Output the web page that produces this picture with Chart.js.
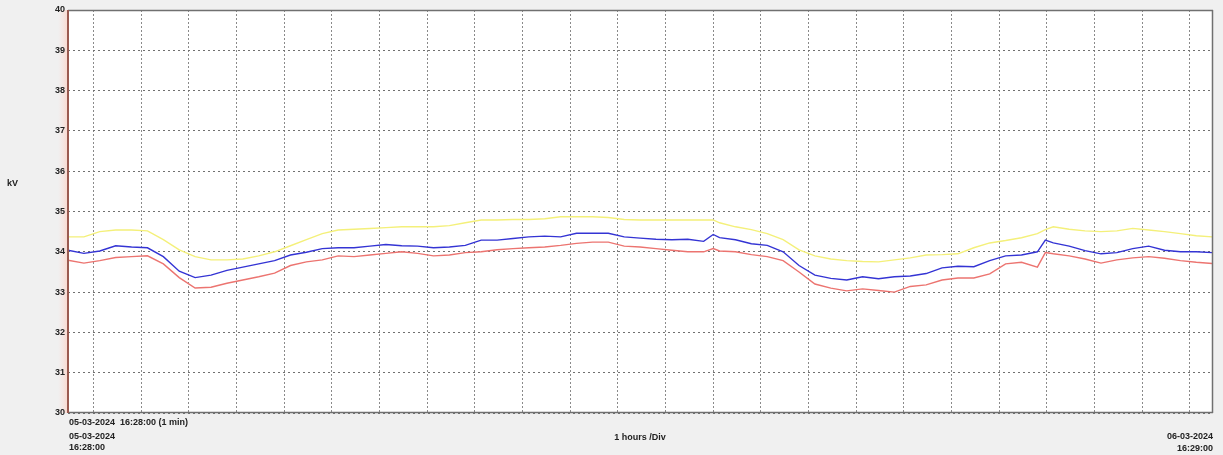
<!DOCTYPE html>
<html>
<head>
<meta charset="utf-8">
<script src="https://cdn.jsdelivr.net/npm/chart.js@4.4.1/dist/chart.umd.min.js"></script>
<style>
  html, body { margin: 0; padding: 0; background: #f0f0f0; }
  #wrap { width: 1223px; height: 455px; }
</style>
</head>
<body>
<div id="wrap"><canvas id="chart" width="1223" height="455"></canvas></div>
<script>
// minutes since 05-03-2024 16:28:00, 1 min sampling (read every ~20 min)
const minutes = [0, 20, 40, 60, 80, 100, 120, 140, 160, 180, 200, 220, 240, 260, 280, 300, 320, 340, 360, 380,
  400, 420, 440, 460, 480, 500, 520, 540, 560, 580, 600, 620, 640, 660, 680, 700, 720, 740, 760, 780,
  800, 812, 820, 840, 860, 880, 900, 920, 940, 960, 980, 1000, 1020, 1040, 1060, 1080, 1100, 1120, 1140, 1160,
  1180, 1200, 1220, 1230, 1240, 1260, 1280, 1300, 1320, 1340, 1360, 1380, 1400, 1420, 1440];

const phaseBlue = [34.04, 33.96, 34.02, 34.15, 34.12, 34.1, 33.88, 33.52, 33.36, 33.42, 33.54, 33.62, 33.7, 33.78, 33.92, 33.99, 34.08, 34.1, 34.1, 34.14,
  34.18, 34.15, 34.14, 34.1, 34.12, 34.16, 34.29, 34.29, 34.33, 34.37, 34.39, 34.37, 34.46, 34.46, 34.46, 34.37, 34.34, 34.31, 34.3, 34.31,
  34.26, 34.43, 34.35, 34.3, 34.2, 34.16, 34.0, 33.66, 33.42, 33.34, 33.3, 33.38, 33.33, 33.38, 33.4, 33.46, 33.6, 33.64, 33.63, 33.78,
  33.9, 33.92, 34.0, 34.29, 34.22, 34.14, 34.03, 33.95, 33.98, 34.08, 34.14, 34.04, 34.0, 34.0, 33.98];

const phaseRed = [33.79, 33.72, 33.78, 33.86, 33.88, 33.9, 33.7, 33.36, 33.1, 33.12, 33.22, 33.3, 33.38, 33.47, 33.66, 33.75, 33.8, 33.9, 33.88, 33.92,
  33.96, 34.0, 33.96, 33.9, 33.92, 33.98, 34.0, 34.05, 34.08, 34.1, 34.12, 34.16, 34.21, 34.24, 34.24, 34.14, 34.12, 34.08, 34.04, 34.0,
  34.0, 34.08, 34.02, 34.0, 33.93, 33.88, 33.78, 33.5, 33.2, 33.1, 33.03, 33.08, 33.04, 33.0, 33.14, 33.18, 33.3, 33.35, 33.35, 33.45,
  33.7, 33.74, 33.62, 33.98, 33.95, 33.9, 33.82, 33.72, 33.8, 33.85, 33.88, 33.84, 33.78, 33.74, 33.71];

const phaseYellow = [34.37, 34.37, 34.5, 34.54, 34.54, 34.52, 34.3, 34.05, 33.88, 33.8, 33.8, 33.82, 33.9, 34.0, 34.15, 34.3, 34.45, 34.54, 34.56, 34.58,
  34.6, 34.62, 34.62, 34.62, 34.65, 34.72, 34.79, 34.79, 34.8, 34.8, 34.82, 34.87, 34.87, 34.87, 34.85, 34.8, 34.79, 34.79, 34.79, 34.79,
  34.79, 34.79, 34.72, 34.62, 34.55, 34.45, 34.3, 34.05, 33.9, 33.82, 33.78, 33.76, 33.75, 33.8, 33.85, 33.92, 33.93, 33.95, 34.1, 34.22,
  34.28, 34.35, 34.45, 34.55, 34.62, 34.56, 34.52, 34.5, 34.52, 34.58, 34.54, 34.5, 34.45, 34.4, 34.37];

// hour grid: first full hour (17:00) is 32 min after start
const hourTicks = [];
for (let m = 32; m < 1441; m += 60) hourTicks.push(m);

const startLabel = "05-03-2024  16:28:00 (1 min)";
const leftDate = ["05-03-2024", "16:28:00"];
const rightDate = ["06-03-2024", "16:29:00"];
const divLabel = "1 hours /Div";
const unitLabel = "kV";

function toPoints(vals) {
  return vals.map((v, i) => ({ x: minutes[i], y: v }));
}

const framePlugin = {
  id: "frame",
  beforeDraw(chart) {
    const { ctx, chartArea: a } = chart;
    ctx.save();
    ctx.fillStyle = "#f0f0f0";
    ctx.fillRect(0, 0, chart.width, chart.height);
    // pink glow left of axis
    const g = ctx.createLinearGradient(a.left - 10, 0, a.left, 0);
    g.addColorStop(0, "rgba(250,225,220,0)");
    g.addColorStop(1, "rgba(250,215,205,1)");
    ctx.fillStyle = g;
    ctx.fillRect(a.left - 10, a.top, 10, a.bottom - a.top);
    ctx.fillStyle = "#ffffff";
    ctx.fillRect(a.left, a.top, a.right - a.left, a.bottom - a.top);
    ctx.restore();
  },
  afterDatasetsDraw(chart) {
    const { ctx, chartArea: a } = chart;
    ctx.save();
    ctx.lineWidth = 1.5;
    ctx.strokeStyle = "#707070";
    ctx.beginPath();
    ctx.moveTo(a.left, a.top + 0.5);
    ctx.lineTo(a.right, a.top + 0.5);
    ctx.moveTo(a.right - 0.5, a.top);
    ctx.lineTo(a.right - 0.5, a.bottom);
    ctx.moveTo(a.left, a.bottom - 0.5);
    ctx.lineTo(a.right, a.bottom - 0.5);
    ctx.stroke();
    ctx.strokeStyle = "#9a5a50";
    ctx.lineWidth = 2;
    ctx.beginPath();
    ctx.moveTo(a.left, a.top);
    ctx.lineTo(a.left, a.bottom);
    ctx.stroke();

    ctx.fillStyle = "#222";
    ctx.font = "bold 9px 'Liberation Sans', Arial, sans-serif";
    ctx.textBaseline = "middle";
    ctx.textAlign = "left";
    ctx.fillText(unitLabel, 7, 184);
    ctx.fillText(startLabel, a.left + 1, 423);
    ctx.fillText(leftDate[0], a.left + 1, 437);
    ctx.fillText(leftDate[1], a.left + 1, 448);
    ctx.textAlign = "center";
    ctx.fillText(divLabel, 640, 438);
    ctx.textAlign = "right";
    ctx.fillText(rightDate[0], a.right, 437);
    ctx.fillText(rightDate[1], a.right, 449);
    ctx.restore();
  }
};

const line = (label, vals, color) => ({
  label,
  data: toPoints(vals),
  borderColor: color,
  borderWidth: 1.4,
  pointRadius: 0,
  tension: 0,
  fill: false
});

new Chart(document.getElementById("chart"), {
  type: "line",
  data: {
    datasets: [
      line("L3", phaseYellow, "#f4f07a"),
      line("L1", phaseRed, "#ec7470"),
      line("L2", phaseBlue, "#3434d4")
    ]
  },
  options: {
    responsive: false,
    animation: false,
    layout: { padding: { top: 10, right: 10, left: 0, bottom: 0 } },
    plugins: { legend: { display: false }, tooltip: { enabled: false } },
    scales: {
      x: {
        type: "linear",
        min: 0,
        max: 1441,
        afterBuildTicks: s => { s.ticks = hourTicks.map(v => ({ value: v })); },
        afterFit: s => { s.height = 42; },
        ticks: { display: false },
        grid: { color: "#8a8a8a", lineWidth: 1, drawTicks: false },
        border: { display: false, dash: [2, 2] }
      },
      y: {
        min: 30,
        max: 40,
        afterFit: s => { s.width = 68; },
        ticks: {
          stepSize: 1,
          padding: 3,
          color: "#222",
          font: { family: "'Liberation Sans', Arial, sans-serif", size: 9, weight: "bold" }
        },
        grid: { color: "#707070", lineWidth: 1, drawTicks: false },
        border: { display: false, dash: [2, 3] }
      }
    }
  },
  plugins: [framePlugin]
});
</script>
</body>
</html>
